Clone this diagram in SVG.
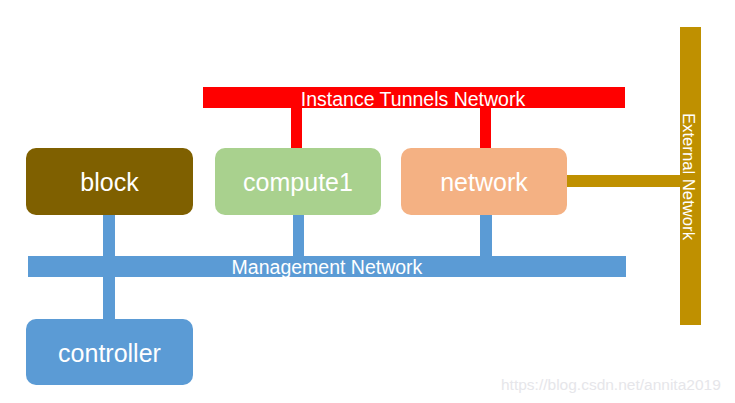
<svg xmlns="http://www.w3.org/2000/svg" width="735" height="403" viewBox="0 0 735 403">
<style>
.lbl{font-family:"Liberation Sans",Arial,sans-serif;fill:#ffffff;text-anchor:middle}
.node{font-size:25px}
.net{font-size:19.5px}
.wm{font-family:"Liberation Sans",Arial,sans-serif;font-size:15.5px;fill:#e6e6ea}
</style>
<rect width="735" height="403" fill="#ffffff"/>
<g id="connectors">
  <rect x="291" y="100" width="11" height="50" fill="#ff0000"/>
  <rect x="480" y="100" width="11" height="50" fill="#ff0000"/>
  <rect x="103" y="210" width="12" height="112" fill="#5b9bd5"/>
  <rect x="293" y="210" width="11" height="50" fill="#5b9bd5"/>
  <rect x="480" y="210" width="12" height="50" fill="#5b9bd5"/>
  <rect x="560" y="175" width="125" height="12" fill="#bf9000"/>
</g>
<g id="instance-tunnels-network">
  <rect x="203" y="87" width="422" height="21" fill="#ff0000"/>
  <text class="lbl net" x="413" y="106">Instance Tunnels Network</text>
</g>
<g id="management-network">
  <rect x="28" y="256" width="598" height="21" fill="#5b9bd5"/>
  <text class="lbl net" x="327" y="274">Management Network</text>
</g>
<g id="external-network">
  <rect x="680" y="27" width="21" height="298" fill="#bf9000"/>
  <text class="lbl" style="font-size:16.7px" transform="translate(683,176.5) rotate(90)">External Network</text>
</g>
<g id="block">
  <rect x="26" y="148" width="167" height="67" rx="10" fill="#7f6000"/>
  <text class="lbl node" x="109.5" y="191">block</text>
</g>
<g id="compute1">
  <rect x="215" y="148" width="166" height="67" rx="10" fill="#a9d18e"/>
  <text class="lbl node" x="298" y="191">compute1</text>
</g>
<g id="network">
  <rect x="401" y="148" width="166" height="67" rx="10" fill="#f4b183"/>
  <text class="lbl node" x="484" y="191">network</text>
</g>
<g id="controller">
  <rect x="26" y="319" width="167" height="66" rx="10" fill="#5b9bd5"/>
  <text class="lbl node" x="109.5" y="362">controller</text>
</g>
<text class="wm" x="501" y="390">https://blog.csdn.net/annita2019</text>
</svg>
